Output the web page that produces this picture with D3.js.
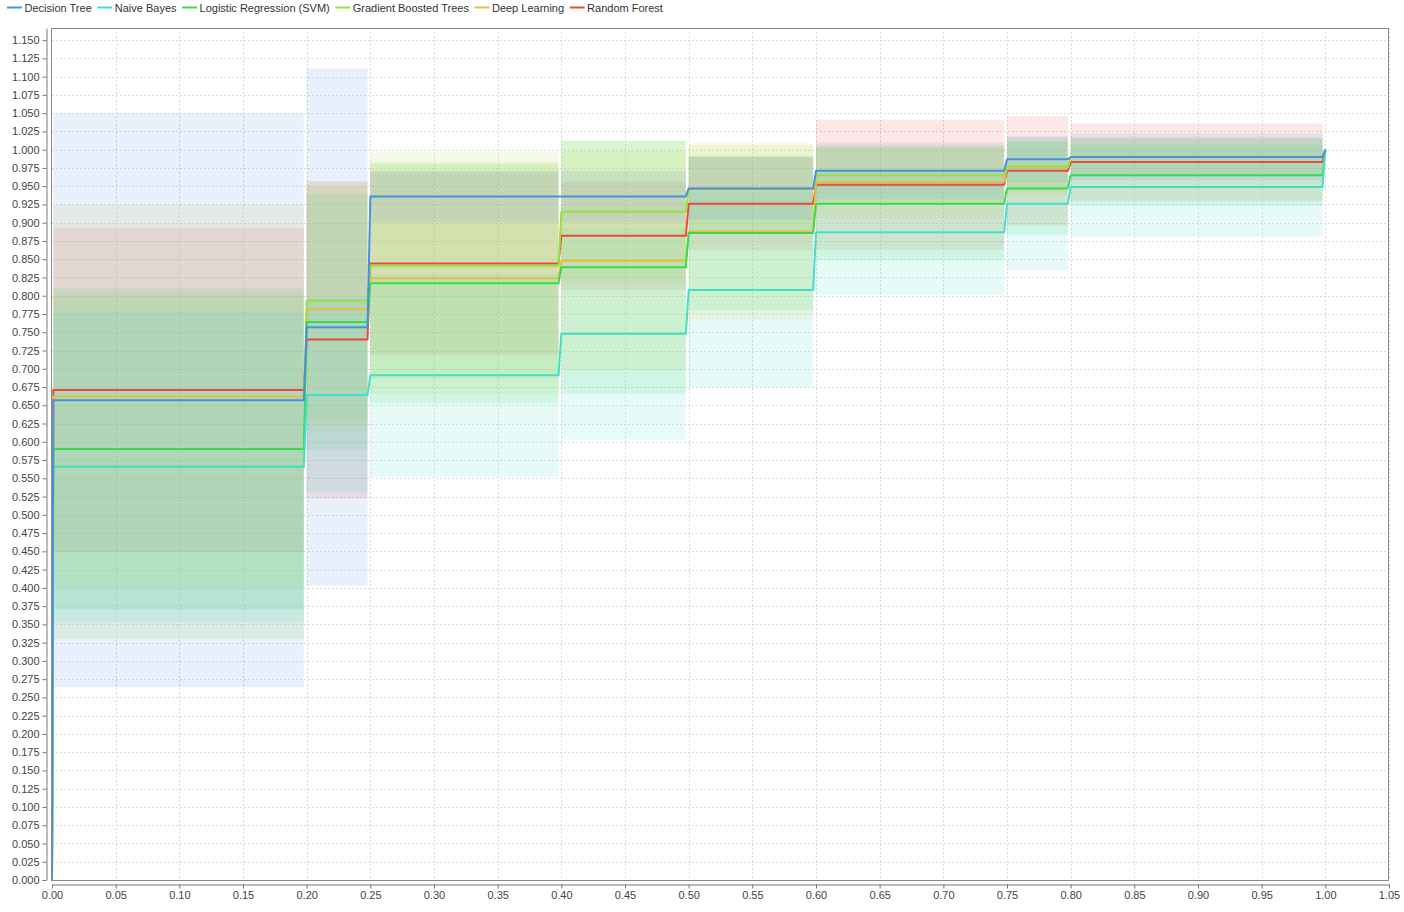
<!DOCTYPE html>
<html><head><meta charset="utf-8">
<script src="https://cdn.jsdelivr.net/npm/d3@7"></script>
<style>
body{margin:0;background:#fff;}
text{font-family:"Liberation Sans",Arial,sans-serif;}
</style>
</head><body>
<svg id="chart" width="1404" height="912"></svg>
<script>
// ---- data ----
const seriesNames = ["Decision Tree","Naive Bayes","Logistic Regression (SVM)","Gradient Boosted Trees","Deep Learning","Random Forest"];
const seriesColors = ["#4a8ee0","#40e0c8","#35dc50","#99e040","#e8c040","#e64b3c"];
// false positive rate where each step of the ROC curve begins
const stepStarts = [0, 0.20, 0.25, 0.40, 0.50, 0.60, 0.75, 0.80];
const stepEnd = 1.0;
// mean true positive rate per step
const dtMean  = [0.657, 0.757, 0.936, 0.936, 0.947, 0.971, 0.987, 0.990];
const nbMean  = [0.566, 0.664, 0.691, 0.748, 0.808, 0.887, 0.926, 0.949];
const lrMean  = [0.590, 0.764, 0.817, 0.839, 0.886, 0.926, 0.947, 0.965];
const gbtMean = [0.566, 0.793, 0.841, 0.915, 0.946, 0.965, 0.977, 0.990];
const dlMean  = [0.662, 0.782, 0.824, 0.848, 0.888, 0.956, 0.976, 0.990];
const rfMean  = [0.671, 0.740, 0.844, 0.882, 0.926, 0.952, 0.971, 0.983];
// standard deviation per step (threshold bands)
const dtStd  = [0.393, 0.354, 0.035, 0.035, 0.043, 0.039, 0.032, 0.032];
const nbStd  = [0.213, 0.133, 0.139, 0.145, 0.133, 0.086, 0.091, 0.068];
const lrStd  = [0.220, 0.175, 0.164, 0.173, 0.106, 0.077, 0.064, 0.042];
const gbtStd = [0.236, 0.162, 0.155, 0.097, 0.060, 0.040, 0.035, 0.025];
const dlStd  = [0.262, 0.168, 0.159, 0.150, 0.121, 0.050, 0.040, 0.025];
const rfStd  = [0.222, 0.217, 0.125, 0.074, 0.064, 0.089, 0.075, 0.053];
const xTickValues = d3.range(0, 21.5).map(i => i * 0.05);
const yTickValues = d3.range(0, 46.5).map(i => i * 0.025);

const means = [dtMean, nbMean, lrMean, gbtMean, dlMean, rfMean];
const stds  = [dtStd, nbStd, lrStd, gbtStd, dlStd, rfStd];

// ---- layout ----
const svg = d3.select("#chart");
const plot = {left: 52, right: 1389, top: 28, bottom: 880};
const x = d3.scaleLinear().domain([0, 1.05]).range([plot.left, plot.right]);
const y = d3.scaleLinear().domain([0, 1.1666]).range([plot.bottom, plot.top]);
const gap = 0.0022;

svg.append("clipPath").attr("id","clip").append("rect")
  .attr("x", plot.left).attr("y", plot.top)
  .attr("width", plot.right - plot.left).attr("height", plot.bottom - plot.top);

// grid
const grid = svg.append("g");
grid.selectAll("line.v").data(xTickValues.slice(1)).join("line")
  .attr("x1", d => Math.round(x(d)) + 0.5).attr("x2", d => Math.round(x(d)) + 0.5)
  .attr("y1", plot.top).attr("y2", plot.bottom)
  .attr("stroke", "#dcdcdc").attr("stroke-dasharray", "2,2");
grid.selectAll("line.h").data(yTickValues.slice(1)).join("line")
  .attr("y1", d => Math.round(y(d)) + 0.5).attr("y2", d => Math.round(y(d)) + 0.5)
  .attr("x1", plot.left).attr("x2", plot.right)
  .attr("stroke", "#dcdcdc").attr("stroke-dasharray", "2,2");

const data = g => g.append("g").attr("clip-path", "url(#clip)");
const bandsG = data(svg);
const linesG = data(svg);

const order = d3.range(seriesNames.length).reverse();
// bands
order.forEach(si => {
  const segs = stepStarts.map((s, i) => {
    const end = (i < stepStarts.length - 1 ? stepStarts[i + 1] : stepEnd) - gap;
    const start = i === 0 ? 0.001 : s;
    return {x0: start, x1: end, lo: means[si][i] - stds[si][i], hi: means[si][i] + stds[si][i]};
  });
  bandsG.append("g").selectAll("rect").data(segs).join("rect")
    .attr("x", d => x(d.x0)).attr("width", d => x(d.x1) - x(d.x0))
    .attr("y", d => y(d.hi)).attr("height", d => y(d.lo) - y(d.hi))
    .attr("fill", seriesColors[si]).attr("fill-opacity", 0.13);
});

// lines
const line = d3.line().x(d => x(d[0])).y(d => y(d[1]));
order.forEach(si => {
  const m = means[si];
  const pts = [[0, 0], [0.001, m[0]]];
  stepStarts.forEach((s, i) => {
    if (i < stepStarts.length - 1) {
      pts.push([stepStarts[i + 1] - gap, m[i]]);
      pts.push([stepStarts[i + 1], m[i + 1]]);
    } else {
      pts.push([stepEnd - gap, m[i]]);
      pts.push([stepEnd, 1.0]);
    }
  });
  linesG.append("path").datum(pts).attr("d", line)
    .attr("fill", "none").attr("stroke", seriesColors[si])
    .attr("stroke-width", 2).attr("stroke-linejoin", "round");
});

// frame
svg.append("rect").attr("x", plot.left - 0.5).attr("y", plot.top + 0.5)
  .attr("width", plot.right - plot.left).attr("height", plot.bottom - plot.top)
  .attr("fill", "none").attr("stroke", "#8a8a8a");

// axes
const yAxis = svg.append("g").attr("transform", "translate(46.5,0)")
  .call(d3.axisLeft(y).tickValues(yTickValues).tickFormat(d3.format(".3f")).tickSize(4).tickSizeOuter(0).tickPadding(3));
const xAxis = svg.append("g").attr("transform", "translate(0,884.5)")
  .call(d3.axisBottom(x).tickValues(xTickValues).tickFormat(d3.format(".2f")).tickSize(4).tickSizeOuter(0).tickPadding(3));
[yAxis, xAxis].forEach(a => {
  a.select(".domain").attr("stroke", "#777");
  a.selectAll(".tick line").attr("stroke", "#777");
  a.selectAll(".tick text").attr("fill", "#444").style("font-size", "11px").style("font-family", '"Liberation Sans", Arial, sans-serif');
});

// legend
const legend = svg.append("g");
let lx = 7;
seriesNames.forEach((name, i) => {
  legend.append("line").attr("x1", lx).attr("x2", lx + 15).attr("y1", 7.5).attr("y2", 7.5)
    .attr("stroke", seriesColors[i]).attr("stroke-width", 2);
  const t = legend.append("text").attr("x", lx + 17.5).attr("y", 12)
    .attr("fill", "#333").style("font-size", "11px").text(name);
  lx += 17.5 + t.node().getComputedTextLength() + 5.5;
});
</script>
</body></html>
